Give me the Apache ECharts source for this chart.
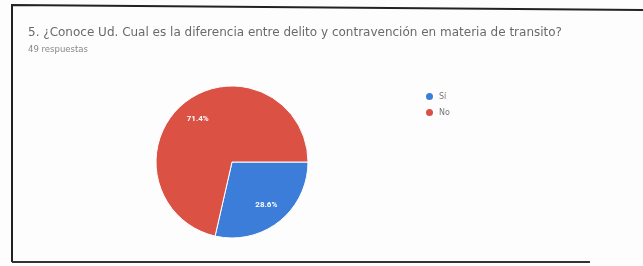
<!DOCTYPE html>
<html><head><meta charset="utf-8">
<script src="https://cdn.jsdelivr.net/npm/echarts@6/dist/echarts.min.js"></script>
<style>html,body{margin:0;padding:0;background:#fff}#c{width:643px;height:266px}</style>
</head><body><div id="c"></div>
<script>
const titleText = "5. ¿Conoce Ud. Cual es la diferencia entre delito y contravención en materia de transito?";
const subtitleText = "49 respuestas";
const categories = ["Sí", "No"];
const values = [14, 35];
const colors = ["#3b7dd8", "#db5143"];

const chart = echarts.init(document.getElementById('c'));
chart.setOption({
  backgroundColor: '#fdfdfd',
  animation: false,
  title: {
    text: titleText, subtext: subtitleText, left: 23, top: 22,
    itemGap: 6,
    textStyle: {fontSize: 12, fontWeight: 'normal', color: '#6a6a6a', fontFamily: 'DejaVu Sans'},
    subtextStyle: {fontSize: 8.5, color: '#888', fontFamily: 'DejaVu Sans'}
  },
  legend: {
    orient: 'vertical', left: 419, top: 86, itemGap: 5,
    icon: 'circle', itemWidth: 9, itemHeight: 9,
    textStyle: {fontSize: 8, color: '#777', fontFamily: 'DejaVu Sans'},
    data: categories
  },
  color: colors,
  series: [{
    type: 'pie', center: [232, 162], radius: 76, startAngle: 0, clockwise: true,
    label: {show: false},
    labelLine: {show: false},
    itemStyle: {borderColor: '#fff', borderWidth: 1},
    data: categories.map((c, i) => ({name: c, value: values[i]}))
  }, {
    type: 'pie', center: [232, 162], radius: [28, 76], startAngle: 0, clockwise: true,
    silent: true, z: 5,
    itemStyle: {color: 'rgba(0,0,0,0)'},
    label: {show: true, position: 'inside', formatter: p => p.percent.toFixed(1) + '%',
      color: '#fff', fontSize: 8, fontWeight: 'bold', fontFamily: 'Roboto'},
    labelLine: {show: false},
    data: categories.map((c, i) => ({name: c, value: values[i]}))
  }],
  graphic: [
    {type: 'polyline', shape: {points: [[12, 262], [12, 5], [643, 10]]}, style: {stroke: '#222', lineWidth: 2, fill: null}},
    {type: 'line', shape: {x1: 12, y1: 262, x2: 590, y2: 262}, style: {stroke: '#333', lineWidth: 2}}
  ]
});
</script></body></html>
